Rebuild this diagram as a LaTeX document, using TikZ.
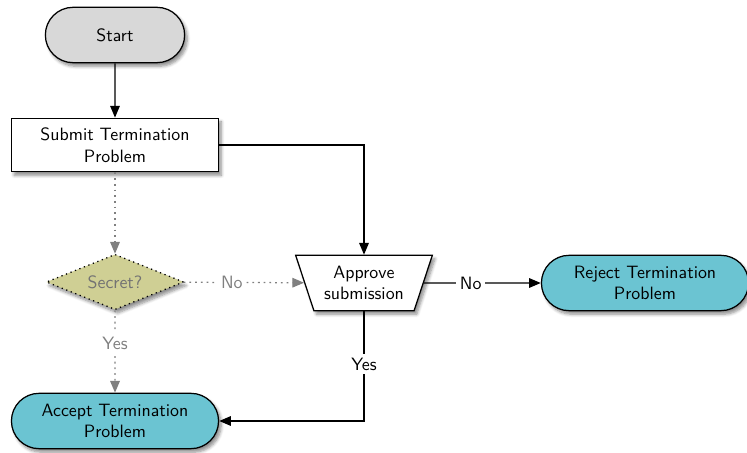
\documentclass[tikz,border=0pt]{standalone}
\usetikzlibrary{arrows.meta, positioning, shapes.geometric, shapes.misc, shadows.blur}
\definecolor{cStart}{HTML}{D8D8D8}
\definecolor{cEnd}{HTML}{6BC4D2}
\definecolor{cSecret}{HTML}{CFCF94}
\definecolor{cFaint}{HTML}{808080}
\tikzset{
  font=\sffamily,
  shade/.style={blur shadow={shadow xshift=1.5pt, shadow yshift=-2pt, shadow blur steps=6, shadow opacity=45}},
  termblock/.style={rounded rectangle, draw=black, line width=0.7pt, align=center,
    minimum height=31pt, inner sep=3pt, shade},
  startblock/.style={termblock, fill=cStart, minimum width=84pt},
  endblock/.style={termblock, fill=cEnd, minimum width=122pt},
  stepblock/.style={rectangle, draw=black, line width=0.7pt, fill=white, align=center,
    minimum width=116pt, minimum height=30pt, inner sep=3pt, shade},
  choiceblock/.style={diamond, draw=black, dotted, line width=0.7pt, fill=cSecret,
    text=black!55, aspect=2.5, minimum width=77pt, minimum height=31pt, inner sep=1pt, shade},
  approveblock/.style={trapezium, trapezium stretches=true, shape border rotate=180,
    trapezium angle=68, draw=black, line width=0.7pt, fill=white, align=center,
    minimum width=77pt, minimum height=31pt, inner sep=1pt, shade},
  flow/.style={-{Triangle[length=6.6pt, width=5.4pt]}, line width=0.7pt, draw=black},
  faintflow/.style={-{Triangle[length=6.6pt, width=5.4pt]}, line width=0.7pt, draw=cFaint,
    dash pattern=on 1pt off 2.2pt},
  flowlabel/.style={fill=white, inner sep=2pt},
  faintlabel/.style={flowlabel, text=cFaint},
}

\begin{document}
\begin{tikzpicture}[x=0.56pt, y=-0.56pt]
  \useasboundingbox (0,0) rectangle (747,453);

  % ==================================================================
  % Left column: start, submit, secret check, accept
  % ==================================================================
  \node[startblock] (start) at (115,35) {Start};

  \node[stepblock] (submit) at (115,145) {Submit Termination\\ Problem};

  \node[choiceblock] (secret) at (115,282) {Secret?};

  \node[endblock] (accept) at (115,421) {Accept Termination\\ Problem};

  % ==================================================================
  % Right part: approval and rejection
  % ==================================================================
  \node[approveblock] (approve) at (364,283) {Approve\\ submission};

  \node[endblock] (reject) at (645,283) {Reject Termination\\ Problem};

  % ----------------------------------------------------------------
  % Arrows
  % ----------------------------------------------------------------
  \draw[flow] (start) -- (submit);
  \draw[flow] (submit.east) -| (approve.north);

  \draw[faintflow] (submit) -- (secret);
  \draw[faintflow] (secret) -- (approve)
    node[faintlabel, pos=0.4] {No};
  \draw[faintflow] (secret) -- (accept)
    node[faintlabel, pos=0.4] {Yes};

  \draw[flow] (approve) -- (reject)
    node[flowlabel, pos=0.4] {No};
  \draw[flow] (approve.south) |- (accept.east)
    node[flowlabel, pos=0.24] {Yes};

\end{tikzpicture}
\end{document}
